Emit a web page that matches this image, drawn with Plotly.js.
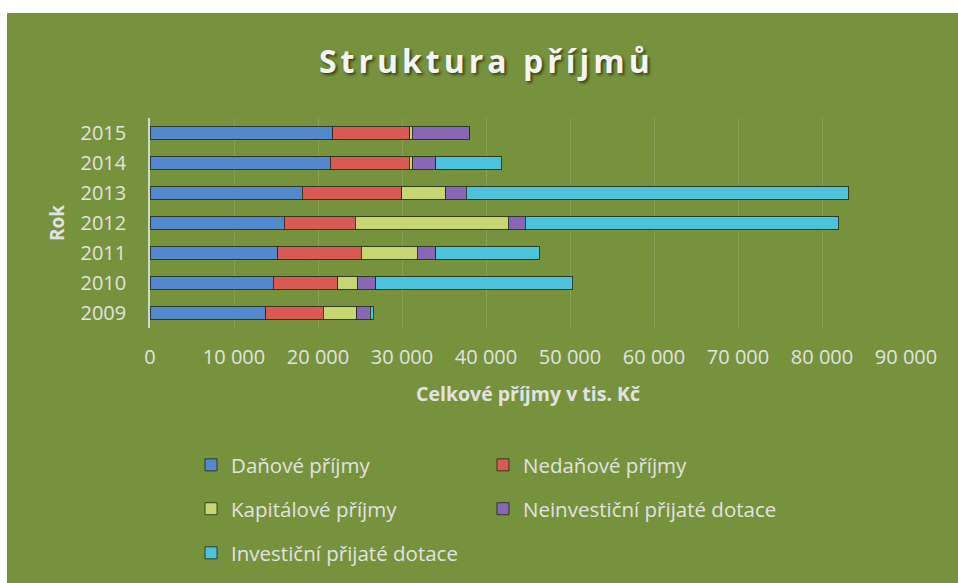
<!DOCTYPE html>
<html>
<head>
<meta charset="utf-8">
<script src="https://cdn.plot.ly/plotly-3.0.1.min.js"></script>
<style>
  html, body { margin: 0; padding: 0; background: #ffffff; }
  #chart { position: absolute; left: 7px; top: 13px; width: 951px; height: 570px; }
  .gtitle { letter-spacing: 4px; }
</style>
</head>
<body>
<div id="chart"></div>
<script>
// Data (thousands CZK)
const years = ["2009", "2010", "2011", "2012", "2013", "2014", "2015"];
const seriesNames = ["Daňové příjmy", "Nedaňové příjmy", "Kapitálové příjmy", "Neinvestiční přijaté dotace", "Investiční přijaté dotace"];
const danove       = [13800, 14700, 15220, 15970, 18150, 21440, 21760];
const nedanove     = [6840, 7650, 9900, 8440, 11800, 9420, 9180];
const kapitalove   = [3970, 2380, 6690, 18210, 5260, 400, 300];
const neinvesticni = [1580, 2170, 2220, 2060, 2460, 2730, 6750];
const investicni   = [390, 23430, 12350, 37330, 45440, 7910, 0];
const xTickVals = [0, 10000, 20000, 30000, 40000, 50000, 60000, 70000, 80000, 90000];
const xTickText = ["0", "10 000", "20 000", "30 000", "40 000", "50 000", "60 000", "70 000", "80 000", "90 000"];

const values = [danove, nedanove, kapitalove, neinvesticni, investicni];
const colors = ["#5488CE", "#D95955", "#C6D671", "#8A67B6", "#4CC2DD"];
const legendIds = ["legend", "legend2", "legend3", "legend4", "legend5"];
// legend grid: two columns, three rows
const legendX = [0.1935, 0.5005, 0.1935, 0.5005, 0.1935];
const legendY = [0.207, 0.207, 0.130, 0.130, 0.0526];

const txt = "#E2E2E2";
const fontFam = "'Open Sans', 'DejaVu Sans', sans-serif";

const traces = values.map((v, i) => ({
  type: "bar",
  orientation: "h",
  name: seriesNames[i],
  y: years,
  x: v,
  legend: legendIds[i],
  marker: { color: colors[i], line: { color: "rgba(35,45,25,0.85)", width: 1 } },
  width: 0.43,
  hoverinfo: "x+y+name"
}));

const layout = {
  width: 951, height: 570,
  paper_bgcolor: "#77923C",
  plot_bgcolor: "rgba(0,0,0,0)",
  margin: { l: 142.5, r: 52, t: 105, b: 255 },
  barmode: "stack",
  title: {
    text: "Struktura příjmů",
    xref: "container", yref: "container",
    x: 0.504, y: 0.914, xanchor: "center", yanchor: "middle",
    font: { family: fontFam, size: 32, weight: 700, color: "#F4F4F4", shadow: "2px 2px 3px rgba(0,0,0,0.55)" }
  },
  xaxis: {
    range: [0, 90000],
    tickvals: xTickVals, ticktext: xTickText,
    showgrid: true, gridcolor: "rgba(255,255,255,0.13)", gridwidth: 1,
    zeroline: false, showline: false,
    ticks: "outside", ticklen: 11, tickcolor: "rgba(0,0,0,0)",
    tickfont: { family: fontFam, size: 20, color: txt },
    title: { text: "Celkové příjmy v tis. Kč", standoff: 18, font: { family: fontFam, size: 19.5, weight: 700, color: txt } },
    fixedrange: true
  },
  yaxis: {
    type: "category",
    categoryorder: "array", categoryarray: years,
    showgrid: false, zeroline: false,
    showline: true, linecolor: "#D5D9C8", linewidth: 1.5,
    ticks: "outside", ticklen: 18, tickcolor: "rgba(0,0,0,0)",
    tickfont: { family: fontFam, size: 20, color: txt },
    title: { text: "Rok", standoff: 11, font: { family: fontFam, size: 19, weight: 700, color: txt } },
    fixedrange: true
  },
  showlegend: true
};

legendIds.forEach((id, i) => {
  layout[id] = {
    orientation: "h",
    xref: "container", yref: "container",
    xanchor: "left", yanchor: "middle",
    x: legendX[i], y: legendY[i],
    bgcolor: "rgba(0,0,0,0)",
    font: { family: fontFam, size: 20.5, color: txt },
    itemwidth: 30
  };
});

Plotly.newPlot("chart", traces, layout, { displayModeBar: false });
</script>
</body>
</html>
